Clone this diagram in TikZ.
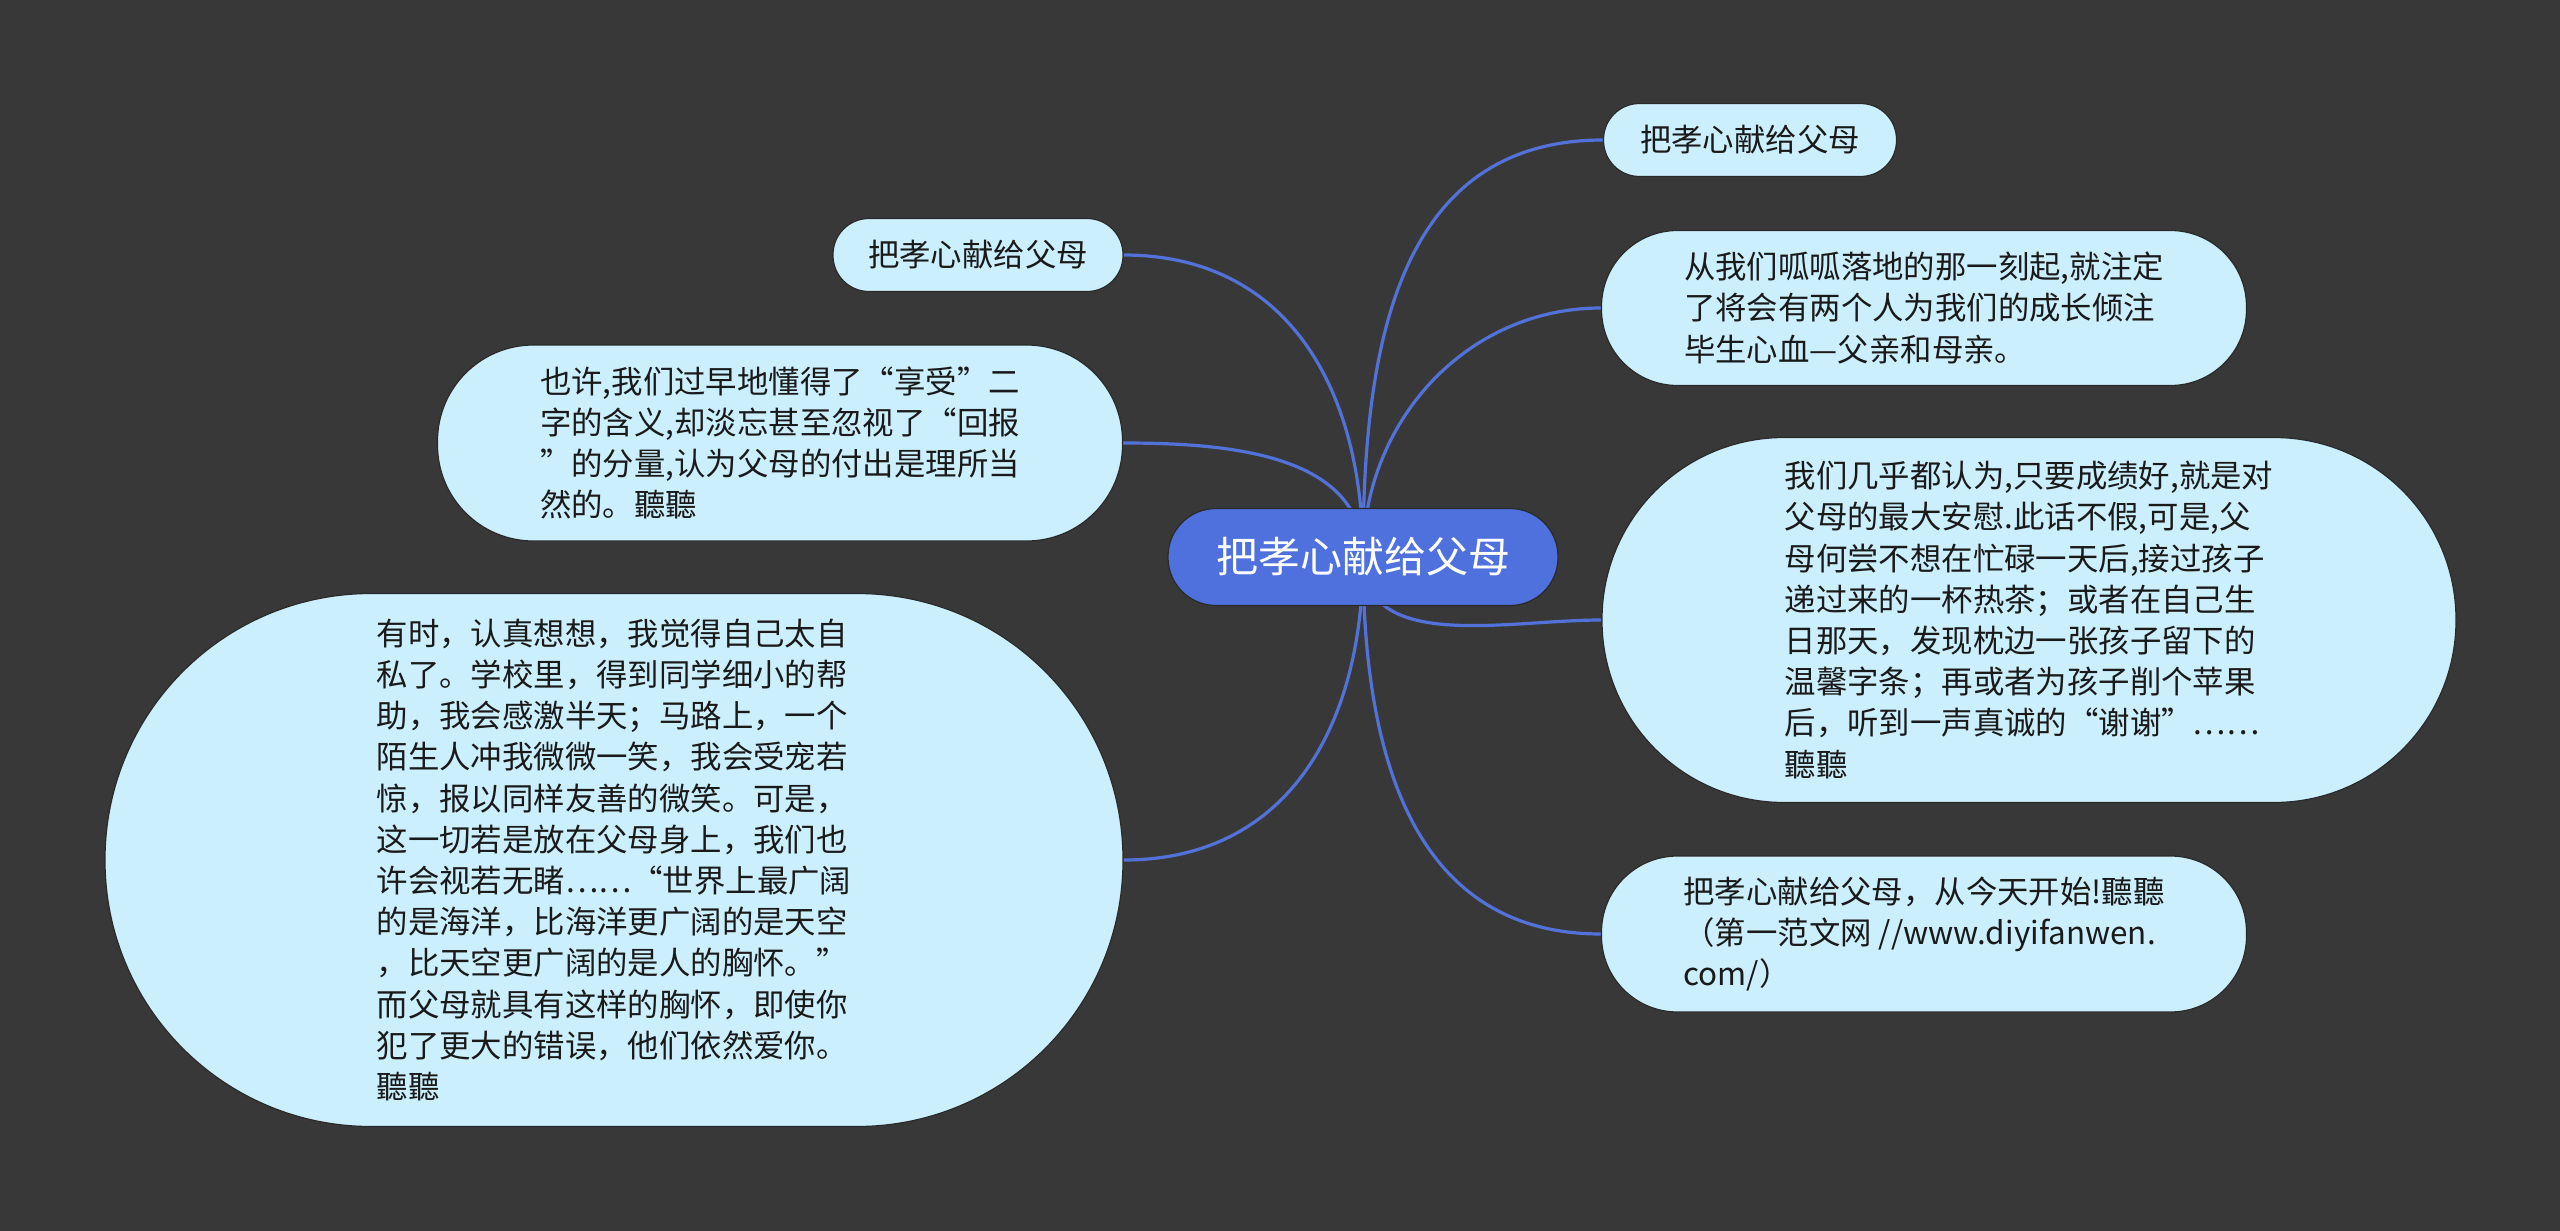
\documentclass[tikz,border=0pt]{standalone}
\usepackage{fontspec}
\setmainfont{Noto Sans CJK SC}
\definecolor{bgcol}{HTML}{383838}
\definecolor{nodefill}{HTML}{CCEFFD}
\definecolor{nodeborder}{HTML}{2A2A2A}
\definecolor{rootfill}{HTML}{4F71DE}
\definecolor{edgecol}{HTML}{5272DA}
\definecolor{textcol}{HTML}{1A1A1A}
\pgfdeclarelayer{bg}
\pgfdeclarelayer{edges}
\pgfsetlayers{bg,edges,main}
\tikzset{
  topic/.style={fill=nodefill, draw=nodeborder, line width=0.6pt, text=textcol, align=left, inner sep=0pt, font=\fontsize{15.7}{20.6}\selectfont},
  root/.style={fill=rootfill, draw=nodeborder, line width=0.6pt, text=white, inner sep=0pt, font=\fontsize{21}{25}\selectfont, minimum width=195pt, minimum height=48.5pt, rounded corners=24pt},
  conn/.style={draw=edgecol, line width=1.6pt},
}
\begin{document}
\begin{tikzpicture}[x=0.5pt,y=-0.5pt]
\begin{pgfonlayer}{bg}
\fill[bgcol] (0,0) rectangle (2560,1231);
\end{pgfonlayer}
\useasboundingbox (0,0) rectangle (2560,1231);

\node[root] (c) at (1363,557) {把孝心献给父母};

\node[topic, minimum width=146.5pt, minimum height=36.5pt, rounded corners=18pt] (tr) at (1750,140) {把孝心献给父母};
\node[topic, minimum width=145pt, minimum height=36.5pt, rounded corners=18pt] (tl) at (978,255) {把孝心献给父母};
\node[topic, minimum width=342.5pt, minimum height=98pt, rounded corners=48pt] (l2) at (780,443) {也许,我们过早地懂得了“享受”二\\字的含义,却淡忘甚至忽视了“回报\\”的分量,认为父母的付出是理所当\\然的。聽聽};
\node[topic, minimum width=509pt, minimum height=266.5pt, rounded corners=133pt] (l3) at (614,860) {有时，认真想想，我觉得自己太自\\私了。学校里，得到同学细小的帮\\助，我会感激半天；马路上，一个\\陌生人冲我微微一笑，我会受宠若\\惊，报以同样友善的微笑。可是，\\这一切若是放在父母身上，我们也\\许会视若无睹……“世界上最广阔\\的是海洋，比海洋更广阔的是天空\\，比天空更广阔的是人的胸怀。”\\而父母就具有这样的胸怀，即使你\\犯了更大的错误，他们依然爱你。\\聽聽};
\node[topic, minimum width=322.5pt, minimum height=77.5pt, rounded corners=38pt] (r2) at (1924,308) {从我们呱呱落地的那一刻起,就注定\\了将会有两个人为我们的成长倾注\\毕生心血—父亲和母亲。};
\node[topic, minimum width=427pt, minimum height=182.5pt, rounded corners=91pt] (r3) at (2029,620) {我们几乎都认为,只要成绩好,就是对\\父母的最大安慰.此话不假,可是,父\\母何尝不想在忙碌一天后,接过孩子\\递过来的一杯热茶；或者在自己生\\日那天，发现枕边一张孩子留下的\\温馨字条；再或者为孩子削个苹果\\后，听到一声真诚的“谢谢”……\\聽聽};
\node[topic, minimum width=322.5pt, minimum height=78pt, rounded corners=38pt] (r4) at (1924,934) {把孝心献给父母，从今天开始!聽聽\\（第一范文网 //www.diyifanwen.\\com/）};

\begin{pgfonlayer}{edges}
\draw[conn] (c.center) to[out=90,in=180,looseness=1.1] (tr.west);
\draw[conn] (c.center) to[out=90,in=180,looseness=1.0] (r2.west);
\draw[conn] (c.center) to[out=-90,in=180,looseness=1.0] (r3.west);
\draw[conn] (c.center) to[out=-90,in=180,looseness=1.1] (r4.west);
\draw[conn] (c.center) to[out=90,in=0,looseness=1.1] (tl.east);
\draw[conn] (c.center) to[out=90,in=0,looseness=1.0] (l2.east);
\draw[conn] (c.center) to[out=-90,in=0,looseness=1.1] (l3.east);
\end{pgfonlayer}
\end{tikzpicture}
\end{document}
